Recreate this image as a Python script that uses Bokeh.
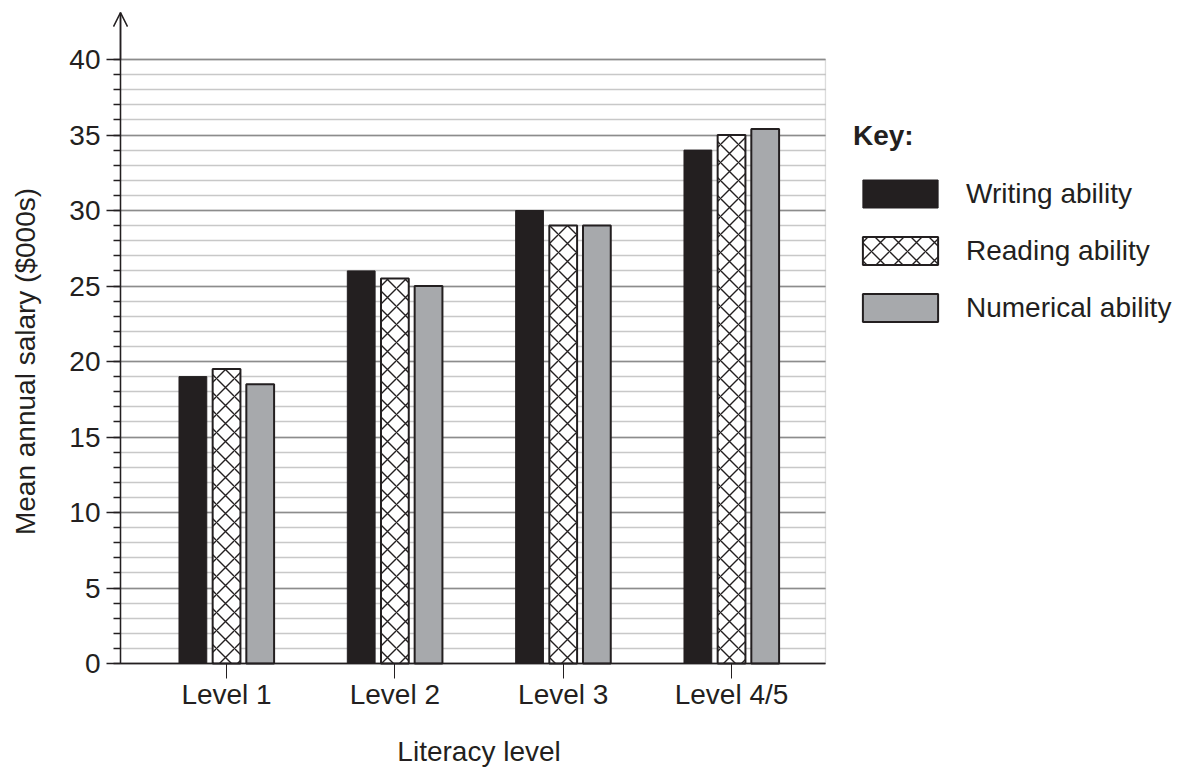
import math
from bokeh.plotting import figure
from bokeh.models import (FixedTicker, Range1d, Legend, LegendItem, Arrow, OpenHead,
                          BoxAnnotation, ColumnDataSource, Label)
from bokeh.transform import dodge
from bokeh.embed import file_html
from bokeh.resources import INLINE

# ---- data ----
levels = ["Level 1", "Level 2", "Level 3", "Level 4/5"]
writing = [19, 26, 30, 34]
reading = [19.5, 25.5, 29, 35]
numerical = [18.5, 25, 29, 35.4]
series_names = ["Writing ability", "Reading ability", "Numerical ability"]
y_major = list(range(0, 41, 5))
y_minor = list(range(0, 41))
positions = [1, 2, 3, 4]

DARK = "#231f20"
GREY = "#a7a9ac"
FONT = "Liberation Sans"
FS = "28px"

W, H = 1185, 767
AX_X, AX_Y = 120, 663     # page position of the axes origin
PX_X = 168.33             # px per category step
PX_Y = 15.1               # px per $1000
X_LO = 0.37               # left edge of chart area (y axis)
X_HI = 4.558              # right edge of chart area
X_START = X_LO - AX_X / PX_X
X_END = X_START + W / PX_X
Y_START = -(H - AX_Y) / PX_Y
Y_END = AX_Y / PX_Y

p = figure(width=W, height=H, x_range=Range1d(X_START, X_END), y_range=Range1d(Y_START, Y_END),
           output_backend="svg", toolbar_location=None,
           min_border_left=0, min_border_right=0, min_border_top=0, min_border_bottom=0)
p.outline_line_color = None
p.background_fill_color = "white"
p.border_fill_color = "white"

src = ColumnDataSource(dict(x=positions, writing=writing, reading=reading, numerical=numerical))

# chart-area border (right edge) under everything
p.add_layout(BoxAnnotation(left=X_LO, right=X_HI, bottom=0, top=40, fill_alpha=0,
                           line_color="#8c8c8c", line_width=1.3, level="underlay"))

BW = 0.165
r1 = p.vbar(x=dodge("x", -0.2), top="writing", width=BW, source=src,
            fill_color=DARK, line_color=DARK, line_width=1)
r2 = p.vbar(x=dodge("x", 0.0), top="reading", width=BW, source=src,
            fill_color="white", line_color=DARK, line_width=2,
            hatch_pattern="x", hatch_color=DARK, hatch_scale=18, hatch_weight=1.4)
r3 = p.vbar(x=dodge("x", 0.2), top="numerical", width=BW, source=src,
            fill_color=GREY, line_color=DARK, line_width=2)

# x axis
xa = p.xaxis[0]
xa.fixed_location = 0
xa.bounds = (X_LO, X_HI)
xa.ticker = FixedTicker(ticks=positions)
xa.major_label_overrides = {k: v for k, v in zip(positions, levels)}
xa.minor_tick_line_color = None
xa.major_tick_out = 15
xa.major_tick_in = 0
xa.major_tick_line_color = DARK
xa.major_tick_line_width = 1
xa.axis_line_color = DARK
xa.axis_line_width = 1.5
xa.major_label_text_font = FONT
xa.major_label_text_font_size = FS
xa.major_label_text_color = DARK
xa.major_label_standoff = 0

# y axis
ya = p.yaxis[0]
ya.fixed_location = X_LO
ya.ticker = FixedTicker(ticks=y_major, minor_ticks=y_minor)
ya.bounds = (0, 43.1)
ya.major_tick_out = 14
ya.major_tick_in = 0
ya.minor_tick_out = 7
ya.minor_tick_in = 0
ya.major_tick_line_color = DARK
ya.minor_tick_line_color = DARK
ya.major_tick_line_width = 1.3
ya.minor_tick_line_width = 1.3
ya.axis_line_color = DARK
ya.axis_line_width = 1.5
ya.major_label_text_font = FONT
ya.major_label_text_font_size = FS
ya.major_label_text_color = DARK
ya.major_label_standoff = 6

# axis titles
p.add_layout(Label(x=2.5, y=1, y_units="screen", text="Literacy level",
                   text_font=FONT, text_font_size=FS, text_color=DARK,
                   text_align="center", text_baseline="bottom"))
p.add_layout(Label(x=25, x_units="screen", y=20, text="Mean annual salary ($000s)",
                   angle=math.pi / 2, text_font=FONT, text_font_size=FS, text_color=DARK,
                   text_align="center", text_baseline="middle"))

# grid
p.xgrid.visible = False
p.ygrid.ticker = ya.ticker
p.ygrid.bounds = (0, 40)
p.ygrid.cross_bounds = (X_LO, X_HI)
p.ygrid.grid_line_color = "#8c8c8c"
p.ygrid.grid_line_width = 1.3
p.ygrid.minor_grid_line_color = "#c8c8c8"
p.ygrid.minor_grid_line_width = 1.3

# arrow head on y axis
p.add_layout(Arrow(end=OpenHead(size=14, line_color=DARK, line_width=1.5),
                   x_start=X_LO, y_start=40, x_end=X_LO, y_end=43.1,
                   line_color=DARK, line_width=1.5))

legend = Legend(items=[LegendItem(label=n, renderers=[r]) for n, r in zip(series_names, [r1, r2, r3])],
                title="Key:", location=(853, 442))
legend.title_text_font = FONT
legend.title_text_font_size = FS
legend.title_text_font_style = "bold"
legend.title_text_color = DARK
legend.title_standoff = 24
legend.label_text_font = FONT
legend.label_text_font_size = FS
legend.label_text_color = DARK
legend.glyph_width = 94
legend.glyph_height = 35
legend.label_standoff = 19
legend.spacing = 22
legend.padding = 0
legend.margin = 0
legend.border_line_color = None
legend.background_fill_alpha = 0
p.add_layout(legend, "center")

open("out.html", "w").write(file_html(p, INLINE))
